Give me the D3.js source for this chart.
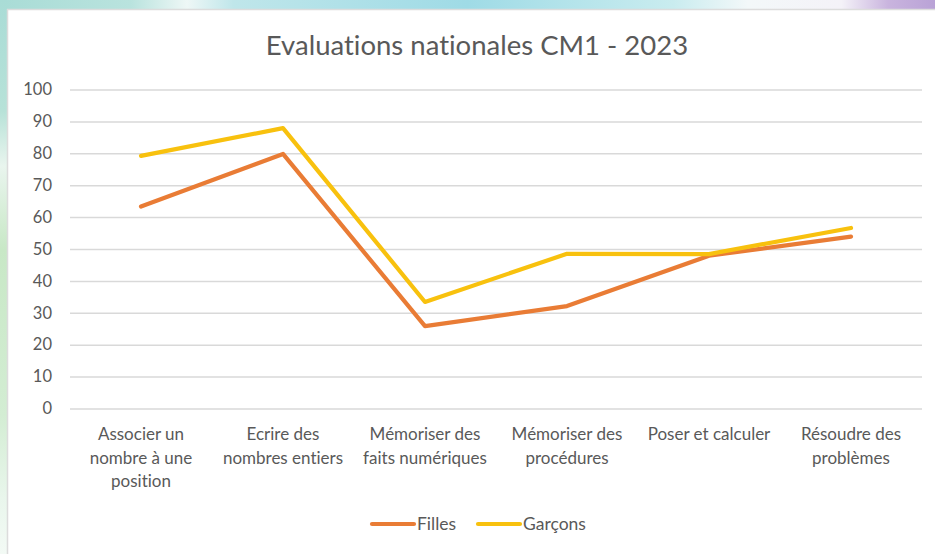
<!DOCTYPE html>
<html><head><meta charset="utf-8">
<script src="https://cdn.jsdelivr.net/npm/d3@7"></script>
<style>
html,body{margin:0;padding:0;background:#fff;}
svg{display:block;}
text{font-variant-ligatures:none;font-feature-settings:"liga" 0;}
</style></head>
<body>
<svg id="chart" width="935" height="554"></svg>
<script>
const title = "Evaluations nationales CM1 - 2023";
const categories = [
  "Associer un\nnombre à une\nposition",
  "Ecrire des\nnombres entiers",
  "Mémoriser des\nfaits numériques",
  "Mémoriser des\nprocédures",
  "Poser et calculer",
  "Résoudre des\nproblèmes"
];
const filles  = [63.3, 79.8, 25.8, 32.1, 47.9, 53.9];
const garcons = [79.2, 87.9, 33.4, 48.5, 48.4, 56.6];
const seriesNames = ["Filles", "Garçons"];
const seriesColors = ["#E97C35", "#F8C10E"];
const yTicks = [0,10,20,30,40,50,60,70,80,90,100];

const svg = d3.select("#chart");
const W = 935, H = 554;
const font = "Lato, 'Open Sans', sans-serif";
const txt = "#595959";

// background decoration
const defs = svg.append("defs");
const gTop = defs.append("linearGradient").attr("id","gtop");
[[0,"#a9dcd6"],[0.14,"#b9e3de"],[0.2,"#eef7f6"],[0.25,"#bfe6ea"],[0.5,"#9fdbe6"],[0.72,"#c9ecef"],[0.8,"#f3f8f9"],[0.9,"#f4f2f8"],[0.95,"#c9b4de"],[1,"#b9a2d6"]]
  .forEach(([o,c])=>gTop.append("stop").attr("offset",o).attr("stop-color",c));
const gLeft = defs.append("linearGradient").attr("id","gleft").attr("x1",0).attr("y1",0).attr("x2",0).attr("y2",1);
[[0,"#a9dcd6"],[0.2,"#b7e2d8"],[0.3,"#e9f5ee"],[0.45,"#c8e8c6"],[0.75,"#d3edd3"],[0.9,"#e9f6ec"],[1,"#f3faf5"]]
  .forEach(([o,c])=>gLeft.append("stop").attr("offset",o).attr("stop-color",c));
svg.append("rect").attr("x",0).attr("y",0).attr("width",W).attr("height",10).attr("fill","url(#gtop)");
svg.append("rect").attr("x",0).attr("y",0).attr("width",8).attr("height",H).attr("fill","url(#gleft)");
svg.append("rect").attr("x",7).attr("y",9).attr("width",W-7).attr("height",H-9).attr("fill","#fff");
svg.append("line").attr("x1",7).attr("x2",W).attr("y1",9.5).attr("y2",9.5).attr("stroke","#dcdcdc").attr("stroke-width",1.5);
svg.append("line").attr("x1",7.5).attr("x2",7.5).attr("y1",9).attr("y2",H).attr("stroke","#dcdcdc").attr("stroke-width",1.5);

// scales
const x = d3.scaleBand().domain(categories).range([70, 922]);
const y = d3.scaleLinear().domain([0,100]).range([408.5, 89.5]);
const cx = d => x(d) + x.bandwidth()/2;

// title
svg.append("text").attr("x", 477).attr("y", 55).attr("text-anchor","middle")
  .attr("font-family", font).attr("font-size", 27.5).attr("fill", txt).text(title);

// gridlines + y axis
const yAxis = d3.axisLeft(y).tickValues(yTicks).tickSize(-(922-70)).tickPadding(18);
const gy = svg.append("g").attr("transform","translate(70,0)").call(yAxis);
gy.select(".domain").remove();
gy.selectAll(".tick line").attr("stroke","#d9d9d9").attr("stroke-width",1.5);
gy.selectAll(".tick text").attr("font-family",font).attr("font-size",16.5).attr("fill",txt);

// x labels
const gx = svg.append("g");
categories.forEach(c => {
  const lines = c.split("\n");
  const t = gx.append("text").attr("x", cx(c)).attr("y", 440).attr("text-anchor","middle")
    .attr("font-family",font).attr("font-size",17).attr("fill",txt);
  lines.forEach((l,i)=> t.append("tspan").attr("x", cx(c)).attr("dy", i===0?0:23.5).text(l));
});

// lines
const line = d3.line().x((d,i)=>cx(categories[i])).y(d=>y(d));
[filles, garcons].forEach((s,k)=>{
  svg.append("path").datum(s).attr("d",line).attr("fill","none")
    .attr("stroke",seriesColors[k]).attr("stroke-width",4.2)
    .attr("stroke-linejoin","round").attr("stroke-linecap","round");
});

// legend
const legendPos = [370, 476];
seriesNames.forEach((n,k)=>{
  const lx = legendPos[k];
  svg.append("line").attr("x1",lx+2).attr("x2",lx+44).attr("y1",524).attr("y2",524)
    .attr("stroke",seriesColors[k]).attr("stroke-width",4.2).attr("stroke-linecap","round");
  svg.append("text").attr("x",lx+47).attr("y",530).attr("font-family",font).attr("font-size",17.5)
    .attr("fill",txt).text(n);
});
</script>
</body></html>
